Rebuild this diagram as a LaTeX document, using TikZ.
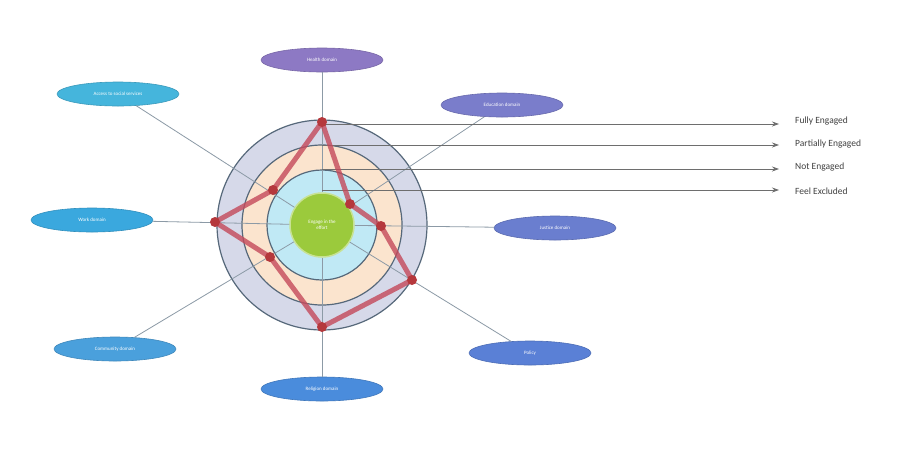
\documentclass[tikz,border=0pt]{standalone}
\usepackage{fontspec}
\setmainfont{Carlito}
\usetikzlibrary{shapes.geometric,positioning,arrows.meta}
\definecolor{ringgray}{HTML}{D6D9E9}
\definecolor{ringline}{HTML}{56687A}
\definecolor{peach}{HTML}{FBE4CE}
\definecolor{iceblue}{HTML}{C0E9F5}
\definecolor{coregreen}{HTML}{9BCA3C}
\definecolor{polyred}{HTML}{C4495A}
\definecolor{dotred}{HTML}{B5383C}
\definecolor{spokegray}{HTML}{8C9AA6}
\definecolor{arrowgray}{HTML}{6E6E6E}
\definecolor{dTop}{HTML}{8D79C4}
\definecolor{dTopL}{HTML}{45B5DC}
\definecolor{dTopR}{HTML}{7A7DCB}
\definecolor{dLeft}{HTML}{3AA8DE}
\definecolor{dRight}{HTML}{6A7ECF}
\definecolor{dBotL}{HTML}{4AA0DC}
\definecolor{dBotR}{HTML}{5A80D6}
\definecolor{dBot}{HTML}{4A8CDC}

\begin{document}
\begin{tikzpicture}[x=1pt,y=-1pt,
  domnode/.style={ellipse, fill=#1, draw=#1!85!black, line width=0.6pt,
    minimum width=122pt, minimum height=24pt, inner sep=0pt,
    text=white, font=\fontsize{5}{6}\selectfont},
  spoke/.style={draw=spokegray, line width=0.8pt},
  lvl/.style={draw=arrowgray, line width=0.8pt, -{Stealth[length=7pt,width=5pt]}},
  lvltext/.style={anchor=west, inner sep=0pt, text=black!75, font=\fontsize{9.5}{11}\selectfont},
  dot/.style={circle, fill=dotred, inner sep=0pt, minimum size=10pt}]
  \useasboundingbox[fill=white] (0,0) rectangle (917,464);

  % rings
  \coordinate (ctr) at (322,225);
  \draw[ringline, fill=ringgray, line width=1.2pt] (ctr) circle[radius=105pt];
  \draw[ringline, fill=peach, line width=1.2pt] (ctr) circle[radius=80pt];
  \draw[ringline, fill=iceblue, line width=1.2pt] (ctr) circle[radius=55pt];

  \node[circle, fill=coregreen, draw=coregreen!55!white, line width=1.5pt,
    minimum size=64pt, inner sep=0pt, align=center, text=white,
    font=\fontsize{5}{6}\selectfont] (core) at (ctr) {Engage in the\\effort};

  % domains
  \node[domnode=dTop] (top) at (322,60) {Health domain};
  \node[domnode=dTopL] (topl) at (118,94) {Access to social services};
  \node[domnode=dTopR] (topr) at (502,105) {Education domain};
  \node[domnode=dLeft] (left) at (92,220) {Work domain};
  \node[domnode=dRight] (right) at (555,228) {Justice domain};
  \node[domnode=dBotL] (botl) at (115,349) {Community domain};
  \node[domnode=dBotR] (botr) at (530,353) {Policy};
  \node[domnode=dBot] (bot) at (322,389) {Religion domain};

  \foreach \from in {top,topl,topr,left,right,botl,botr,bot}
    \draw[spoke] (\from) -- (core);

  % levels
  \node[lvltext] (fully) at (795,121) {Fully Engaged};
  \node[lvltext] (part) at (795,144) {Partially Engaged};
  \node[lvltext] (noten) at (795,167) {Not Engaged};
  \node[lvltext] (excl) at (795,191) {Feel Excluded};
  \coordinate (l1) at (322,124);
  \coordinate (l2) at (322,145);
  \coordinate (l3) at (322,169);
  \coordinate (l4) at (322,190);
  \foreach \from/\to in {l1/fully,l2/part,l3/noten,l4/excl}
    \draw[lvl, shorten >=16pt] (\from) -- (\from -| \to.west);

  % profile
  \coordinate (pT) at (322,122);
  \coordinate (pTR) at (350,204);
  \coordinate (pR) at (381,226);
  \coordinate (pBR) at (412,280);
  \coordinate (pB) at (322,327);
  \coordinate (pBL) at (270,257);
  \coordinate (pL) at (215,222);
  \coordinate (pTL) at (273,190);
  \draw[polyred, opacity=0.8, line width=5pt, line join=round]
    (pT) -- (pTR) -- (pR) -- (pBR) -- (pB) -- (pBL) -- (pL) -- (pTL) -- cycle;
  \foreach \p in {pT,pTR,pR,pBR,pB,pBL,pL,pTL}
    \node[dot] at (\p) {};
\end{tikzpicture}
\end{document}
